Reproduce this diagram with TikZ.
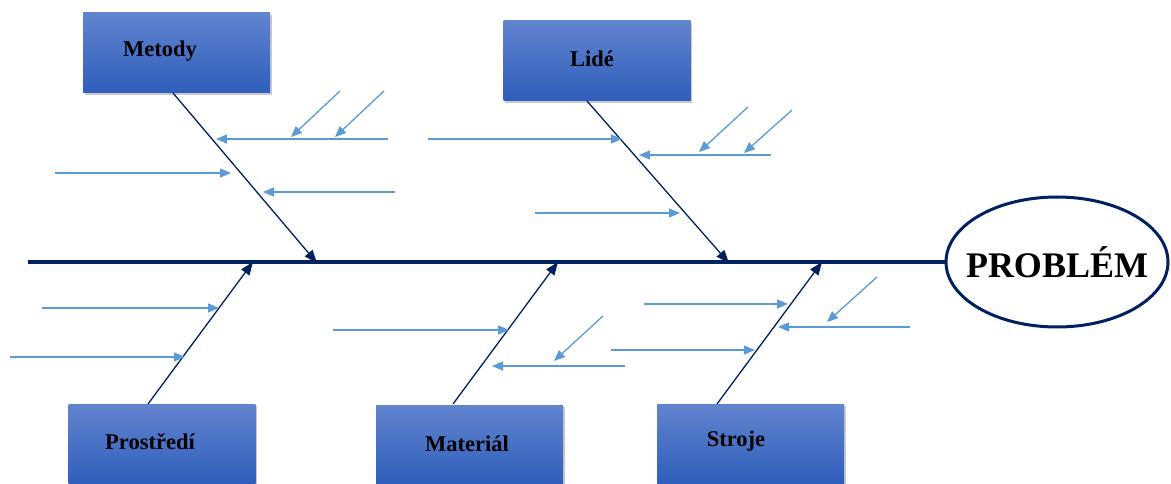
\documentclass[tikz,border=0pt]{standalone}
\usepackage{fontspec}
\setmainfont{Liberation Serif}
\usetikzlibrary{arrows.meta,shadows,shapes.geometric}
\definecolor{navy}{RGB}{0,32,96}
\definecolor{twig}{RGB}{91,155,213}
\definecolor{boxtop}{RGB}{98,132,206}
\definecolor{boxbot}{RGB}{46,94,188}
\begin{document}
\begin{tikzpicture}[x=1pt,y=-1pt,
  cause/.style={rectangle, minimum width=187pt, minimum height=80pt, inner sep=0pt,
    top color=boxtop, bottom color=boxbot, draw=none,
    drop shadow={shadow xshift=1.5pt, shadow yshift=-2pt, opacity=0.3, fill=black!70}},
  captxt/.style={font=\bfseries\fontsize{22.5}{26}\selectfont, text=black, inner sep=0pt},
  bone/.style={draw=navy, line width=1.3pt, -{Triangle[length=13pt,width=10pt]}},
  twigarrow/.style={draw=twig, line width=1.3pt, -{Triangle[length=11pt,width=9pt]}},
]
\useasboundingbox (0,0) rectangle (1171,484);
\clip (0,0) rectangle (1171,484);

% effect
\node[ellipse, draw=navy, line width=3pt, minimum width=222pt, minimum height=130pt,
      font=\bfseries\fontsize{36}{40}\selectfont, inner xsep=-14pt, inner ysep=0pt] (problem) at (1057,262) {PROBLÉM};

% spine
\coordinate (tail) at (28,262);
\draw[navy, line width=4pt] (tail) -- (problem.west);

% cause boxes
\node[cause] (metody) at (176.5,53) {};
\node[cause] (lide) at (597,61) {};
\node[cause] (prostredi) at (162,444) {};
\node[cause] (material) at (469.5,445) {};
\node[cause] (stroje) at (750.5,444) {};

\node[captxt] (metodyT) at (160,51) {Metody};
\node[captxt] (lideT) at (592,59) {Lidé};
\node[captxt] (prostrediT) at (150,442) {Prostředí};
\node[captxt] (materialT) at (467,444) {Materiál};
\node[captxt] (strojeT) at (736,441) {Stroje};

% main bones
\coordinate (mTop) at (173,93);   \coordinate (mEnd) at (317,263);
\coordinate (lTop) at (587,101);  \coordinate (lEnd) at (729,263);
\coordinate (pBot) at (148,404);  \coordinate (pEnd) at (253,262);
\coordinate (aBot) at (453,404);  \coordinate (aEnd) at (558,262);
\coordinate (sBot) at (717,404);  \coordinate (sEnd) at (822,262);
\draw[bone] (mTop) -- (mEnd);
\draw[bone] (lTop) -- (lEnd);
\draw[bone] (pBot) -- (pEnd);
\draw[bone] (aBot) -- (aEnd);
\draw[bone] (sBot) -- (sEnd);

% sub-causes: Metody
\draw[twigarrow] (388,139) -- (216,139);
\draw[twigarrow] (340,91) -- (291,137);
\draw[twigarrow] (384,91) -- (335,137);
\draw[twigarrow] (55,173) -- (231,173);
\draw[twigarrow] (395,192) -- (263,192);

% sub-causes: Lidé
\draw[twigarrow] (428,139) -- (622,139);
\draw[twigarrow] (771,155) -- (639,155);
\draw[twigarrow] (748,107) -- (699,152);
\draw[twigarrow] (792,110) -- (744,153);
\draw[twigarrow] (535,213) -- (680,213);

% sub-causes: Prostředí
\draw[twigarrow] (42,308) -- (219,308);
\draw[twigarrow] (10,357) -- (185,357);

% sub-causes: Materiál
\draw[twigarrow] (333,330) -- (509,330);
\draw[twigarrow] (625,366) -- (492,366);
\draw[twigarrow] (603,316) -- (554,361);

% sub-causes: Stroje
\draw[twigarrow] (644,304) -- (788,304);
\draw[twigarrow] (611,350) -- (755,350);
\draw[twigarrow] (910,327) -- (778,327);
\draw[twigarrow] (877,277) -- (827,322);
\end{tikzpicture}
\end{document}
